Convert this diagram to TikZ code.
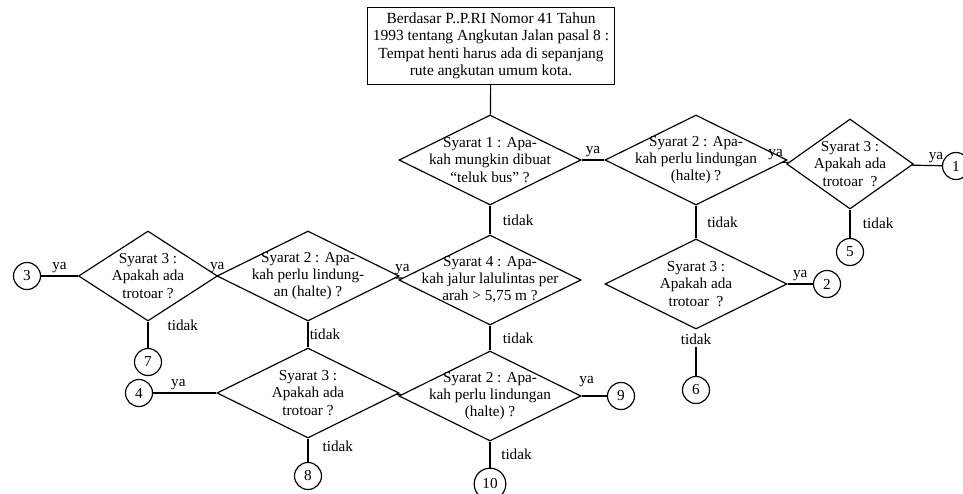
\documentclass[tikz,border=0pt]{standalone}
\usepackage{fontspec}
\setmainfont{Liberation Serif}
\usetikzlibrary{shapes.geometric,positioning}
\begin{document}
\begin{tikzpicture}[x=0.3mm,y=-0.3mm,line width=1pt,
    syarat/.style={diamond,draw,minimum width=5.46cm,minimum height=2.7cm,inner sep=0pt},
    isi/.style={align=center,inner sep=0pt,font=\fontsize{13}{14.6}\selectfont},
    ujung/.style={circle,draw,minimum size=0.81cm,inner sep=1pt,font=\fontsize{13}{14.6}\selectfont},
    jawab/.style={inner sep=2pt,font=\fontsize{13}{14.6}\selectfont}]
    \useasboundingbox (0,0) rectangle (963,493);
    % pangkal
    \node[draw,isi,font=\fontsize{13.2}{14.9}\selectfont,minimum width=7.41cm,minimum height=2.31cm] (dasar) at (491,46)
        {Berdasar P..P.RI Nomor 41 Tahun\\1993 tentang Angkutan Jalan pasal 8 :\\Tempat henti harus ada di sepanjang\\rute angkutan umum kota.};
    % syarat
    \node[syarat] (s1) at (490,160) {};
    \node[isi] (s1t) at (s1) {Syarat 1 : Apa-\\kah mungkin dibuat\\``teluk bus'' ?};
    \node[syarat] (s2) at (696,160) {};
    \node[isi] (s2t) at (s2) {Syarat 2 : Apa-\\kah perlu lindungan\\(halte) ?};
    \node[syarat,minimum width=3.8cm] (s3) at (850,164) {};
    \node[isi] (s3t) at (s3) {Syarat 3 :\\Apakah ada\\trotoar\ \ ?};
    \node[syarat] (s4) at (696,284) {};
    \node[isi] (s4t) at (s4) {Syarat 3 :\\Apakah ada\\trotoar\ \ ?};
    \node[syarat] (s5) at (490,280) {};
    \node[isi] (s5t) at (s5) {Syarat 4 : Apa-\\kah jalur lalulintas per\\arah > 5,75 m ?};
    \node[syarat] (s6) at (308,276) {};
    \node[isi] (s6t) at (s6) {Syarat 2 : Apa-\\kah perlu lindung-\\an (halte) ?};
    \node[syarat,minimum width=4.17cm] (s7) at (148,276) {};
    \node[isi] (s7t) at (s7) {Syarat 3 :\\Apakah ada\\trotoar ?};
    \node[syarat] (s8) at (308,393) {};
    \node[isi] (s8t) at (s8) {Syarat 3 :\\Apakah ada\\trotoar ?};
    \node[syarat] (s9) at (490,396) {};
    \node[isi] (s9t) at (s9) {Syarat 2 : Apa-\\kah perlu lindungan\\(halte) ?};
    % hasil
    \node[ujung] (c1) at (956,166) {1};
    \node[ujung] (c2) at (827,284) {2};
    \node[ujung] (c3) at (27,276) {3};
    \node[ujung] (c4) at (139,393) {4};
    \node[ujung] (c5) at (850,252) {5};
    \node[ujung] (c6) at (696,390) {6};
    \node[ujung] (c7) at (148,362) {7};
    \node[ujung] (c8) at (308,476) {8};
    \node[ujung] (c9) at (621,396) {9};
    \node[ujung,minimum size=0.95cm] (c10) at (490,484) {10};
    % garis
    \draw (dasar) -- (s1);
    \draw (s1) -- node[jawab,above]{ya} (s2);
    \draw (s2) -- node[jawab,above left]{ya} (s3);
    \draw (s3) -- node[jawab,pos=0.8,above]{ya} (c1);
    \draw (s3) -- node[jawab,right,xshift=3mm]{tidak} (c5);
    \draw (s2) -- node[jawab,right,xshift=2.5mm]{tidak} (s4);
    \draw (s4) -- node[jawab,above]{ya} (c2);
    \node[jawab,below=1pt of s4.south] (t4) {tidak};
    \draw (t4) -- (c6);
    \draw (s1) -- node[jawab,right,xshift=3mm]{tidak} (s5);
    \draw (s6) -- node[jawab,above,xshift=1mm]{ya} (s5);
    \draw (s7) -- node[jawab,above]{ya} (s6);
    \draw (c3) -- node[jawab,above]{ya} (s7);
    \draw (s7) -- node[jawab,pos=0.15,right,xshift=5mm]{tidak} (c7);
    \draw (s6) -- node[jawab,right,inner sep=1pt]{tidak} (s8);
    \draw (c4) -- node[jawab,pos=0.4,above]{ya} (s8);
    \draw (s8) -- node[jawab,pos=0.35,right,xshift=3.5mm]{tidak} (c8);
    \draw (s8) -- (s9);
    \draw (s5) -- node[jawab,right,xshift=3mm]{tidak} (s9);
    \draw (s9) -- node[jawab,pos=0.2,above,yshift=2mm]{ya} (c9);
    \draw (s9) -- node[jawab,right,xshift=2.5mm]{tidak} (c10);
\end{tikzpicture}
\end{document}
